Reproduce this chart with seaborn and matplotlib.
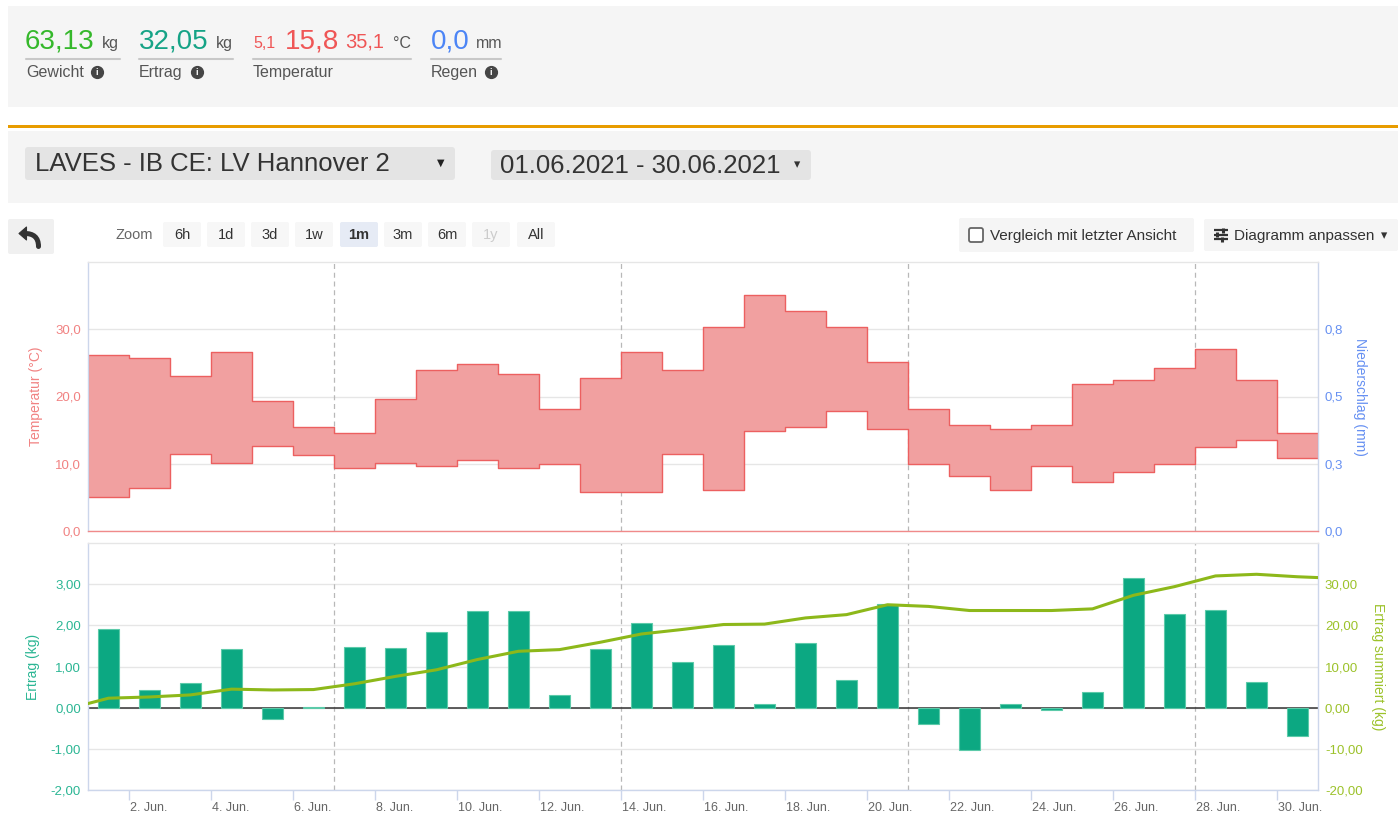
import numpy as np
import pandas as pd
import matplotlib
matplotlib.use("Agg")
import matplotlib.pyplot as plt
from matplotlib.patches import Rectangle, FancyBboxPatch, PathPatch, Polygon
from matplotlib.path import Path
from matplotlib.transforms import ScaledTranslation
import seaborn as sns

# ---------------- data : June 2021, LAVES - IB CE: LV Hannover 2 ----------------
tage = list(range(1, 31))                      # day of June
temp_min = [5.1, 6.4, 11.5, 10.1, 12.7, 11.3, 9.3, 10.1, 9.7, 10.6,
            9.4, 9.9, 5.8, 5.8, 11.5, 6.1, 14.9, 15.5, 17.9, 15.2,
            10.0, 8.2, 6.1, 9.6, 7.3, 8.8, 10.0, 12.5, 13.6, 10.9]
temp_max = [26.1, 25.7, 23.1, 26.6, 19.3, 15.4, 14.5, 19.6, 23.9, 24.9,
            23.3, 18.2, 22.8, 26.6, 24.0, 30.3, 35.1, 32.7, 30.4, 25.1,
            18.1, 15.7, 15.1, 15.8, 21.9, 22.5, 24.3, 27.0, 22.4, 14.5]
ertrag = [1.91, 0.42, 0.59, 1.42, -0.27, 0.01, 1.48, 1.45, 1.83, 2.35,
          2.35, 0.31, 1.42, 2.06, 1.10, 1.53, 0.08, 1.57, 0.67, 2.51,
          -0.40, -1.04, 0.08, -0.06, 0.39, 3.15, 2.27, 2.37, 0.62, -0.69]
# cumulated yield (time in June days, value in kg)
summiert_zeit = [1.0, 1.5, 2.5, 3.5, 4.5, 5.5, 6.5, 7.5, 8.5, 9.5, 10.5,
                 11.5, 12.5, 13.5, 14.5, 15.5, 16.5, 17.5, 18.5, 19.5, 20.5,
                 21.5, 22.5, 23.5, 24.5, 25.5, 26.5, 27.5, 28.5, 29.5, 30.5, 31.0]
summiert = [1.0, 2.3, 2.6, 3.1, 4.5, 4.3, 4.4, 5.8, 7.6, 9.2, 11.7,
            13.7, 14.1, 15.9, 17.9, 19.0, 20.2, 20.3, 21.8, 22.6, 25.0,
            24.6, 23.6, 23.6, 23.6, 24.0, 27.3, 29.4, 32.0, 32.4, 31.8, 31.6]

tick_tage = [2, 4, 6, 8, 10, 12, 14, 16, 18, 20, 22, 24, 26, 28, 30]
tick_labels = ["2. Jun.", "4. Jun.", "6. Jun.", "8. Jun.", "10. Jun.", "12. Jun.",
               "14. Jun.", "16. Jun.", "18. Jun.", "20. Jun.", "22. Jun.", "24. Jun.",
               "26. Jun.", "28. Jun.", "30. Jun."]
wochen_start = [7, 14, 21, 28]

temp_ticks = [0, 10, 20, 30]
temp_labels = ["0,0", "10,0", "20,0", "30,0"]
regen_ticks = [0, 0.25, 0.5, 0.75]
regen_labels = ["0,0", "0,3", "0,5", "0,8"]
ertrag_ticks = [-2, -1, 0, 1, 2, 3]
ertrag_labels = ["-2,00", "-1,00", "0,00", "1,00", "2,00", "3,00"]
summ_ticks = [-20, -10, 0, 10, 20, 30]
summ_labels = ["-20,00", "-10,00", "0,00", "10,00", "20,00", "30,00"]

# ---------------- style ----------------
sns.set_theme(style="white")
plt.rcParams["font.family"] = ["Liberation Sans", "DejaVu Sans"]

C_GEW = "#35b82b"
C_ERT = "#16a386"
C_TEMP = "#ef5656"
C_REG = "#4c85f6"
C_TEMP_AX = "#f18282"
C_REG_AX = "#6690f2"
C_BAR = "#0ca882"
C_ERT_AX = "#2bb694"
C_LINE = "#8db81a"
C_SUM_AX = "#9cc22a"
C_BLUEAX = "#ccd6eb"
C_GRID = "#e6e6e6"

W, H = 1398, 813
fig = plt.figure(figsize=(W / 100, H / 100), dpi=100)
fig.patch.set_facecolor("white")

# ---------------- UI overlay (pixel coordinates) ----------------
ui = fig.add_axes([0, 0, 1, 1])
ui.set_xlim(0, W)
ui.set_ylim(H, 0)
ui.axis("off")


def box(x0, y0, x1, y1, fc, r=3):
    ui.add_patch(FancyBboxPatch((x0, y0), x1 - x0, y1 - y0,
                                boxstyle=f"round,pad=0,rounding_size={r}",
                                fc=fc, ec="none", lw=0))


def txt(x, y, s, size, color, ha="left", va="baseline", weight="normal", **kw):
    ui.text(x, y, s, fontsize=size, color=color, ha=ha, va=va,
            fontweight=weight, **kw)


def info(x, y):
    ui.plot([x], [y], "o", ms=8.5, color="#454545")
    txt(x, y + 0.6, "i", 6.5, "white", ha="center", va="center", weight="bold")


# header panel
ui.add_patch(Rectangle((8, 6), W - 8, 101, fc="#f5f5f5", lw=0))
txt(25, 48, "63,13", 20, C_GEW)
txt(102, 48, "kg", 11.5, "#555555")
ui.plot([26, 120], [59, 59], color="#c8c8c8", lw=1.5)
txt(26, 77, "Gewicht", 11.5, "#555555")
info(97, 72)

txt(139, 48, "32,05", 20, C_ERT)
txt(216, 48, "kg", 11.5, "#555555")
ui.plot([139, 233], [59, 59], color="#c8c8c8", lw=1.5)
txt(139, 77, "Ertrag", 11.5, "#555555")
info(197, 72)

txt(253, 48, "5,1", 11.5, C_TEMP)
txt(285, 48, "15,8", 20, C_TEMP)
txt(345, 48, "35,1", 14.5, C_TEMP)
txt(393, 48, "°C", 11.5, "#555555")
ui.plot([253, 411], [59, 59], color="#c8c8c8", lw=1.5)
txt(253, 77, "Temperatur", 11.5, "#555555")

txt(431, 48, "0,0", 20, C_REG)
txt(476, 48, "mm", 11.5, "#555555")
ui.plot([431, 501], [59, 59], color="#c8c8c8", lw=1.5)
txt(431, 77, "Regen", 11.5, "#555555")
info(491, 72)

# orange separator + selection panel
ui.add_patch(Rectangle((8, 125.5), W - 8, 3, fc="#e89c00", lw=0))
ui.add_patch(Rectangle((8, 131), W - 8, 72, fc="#f5f5f5", lw=0))
box(25, 147, 455, 180, "#e4e4e4")
txt(35, 164, "LAVES - IB CE: LV Hannover 2", 18.5, "#333333", va="center")
txt(441, 163, "▼", 7, "#222222", ha="center", va="center", family="DejaVu Sans")
box(491, 150, 811, 180, "#e4e4e4")
txt(500, 166, "01.06.2021 - 30.06.2021", 18.5, "#333333", va="center")
txt(797, 165, "▾", 9, "#333333", ha="center", va="center", family="DejaVu Sans")

# toolbar: back button with "reply" arrow icon
box(8, 219, 54, 254, "#f0f0f0", r=2)
arrow_body = Path([(38.5, 246.5), (38.5, 237.0), (33.0, 233.5), (25.0, 233.5)],
                  [Path.MOVETO, Path.CURVE4, Path.CURVE4, Path.CURVE4])
ui.add_patch(PathPatch(arrow_body, fc="none", ec="#333333", lw=3.6, capstyle="round"))
ui.add_patch(Polygon([(19.0, 233.5), (26.5, 227.0), (26.5, 240.0)], closed=True,
                     fc="#333333", ec="#333333", lw=0.8, joinstyle="round"))

txt(115, 234.5, "Zoom", 10.5, "#666666", va="center")
buttons = [("6h", 163), ("1d", 207), ("3d", 251), ("1w", 295), ("1m", 340),
           ("3m", 384), ("6m", 428), ("1y", 472), ("All", 517)]
for lab, bx in buttons:
    sel = lab == "1m"
    box(bx, 222, bx + 38, 247, "#e6ebf5" if sel else "#f7f7f7", r=2)
    col = "#cccccc" if lab == "1y" else "#333333"
    txt(bx + 19, 234.5, lab, 10.5, col, ha="center", va="center",
        weight="bold" if sel else "normal")

box(959, 218, 1194, 252, "#f5f5f5", r=2)
ui.add_patch(FancyBboxPatch((969, 228), 14, 14, boxstyle="round,pad=0,rounding_size=2",
                            fc="white", ec="#666666", lw=1.3))
txt(990, 236, "Vergleich mit letzter Ansicht", 11, "#333333", va="center")
box(1204, 219, W, 251, "#f5f5f5", r=2)
for yy, tx in [(230.5, 1223), (235, 1217), (239.5, 1222)]:
    ui.plot([1214, 1228], [yy, yy], color="#333333", lw=1.6, solid_capstyle="butt")
    ui.plot([tx, tx], [yy - 2.5, yy + 2.5], color="#333333", lw=2.2, solid_capstyle="butt")
txt(1234, 236, "Diagramm anpassen", 11, "#333333", va="center")
txt(1384, 236, "▾", 9, "#333333", ha="center", va="center", family="DejaVu Sans")

# ---------------- temperature chart ----------------
x0, x1 = 88, 1318
ax_t = fig.add_axes([x0 / W, (H - 531) / H, (x1 - x0) / W, (531 - 262) / H])
edges = tage + [31]
lo = temp_min + [temp_min[-1]]
hi = temp_max + [temp_max[-1]]
ax_t.fill_between(edges, lo, hi, step="post", facecolor="#f1a0a0",
                  edgecolor="#ec6060", lw=1.0, zorder=2)
for w in wochen_start:
    ax_t.axvline(w, color="#b8b8b8", lw=0.9, ls=(0, (4, 3)), zorder=1.5)
ax_t.set_xlim(1, 31)
ax_t.set_ylim(0, 40)
ax_t.set_yticks(temp_ticks)
ax_t.set_yticklabels(temp_labels)
ax_t.set_xticks(tick_tage)
ax_t.grid(axis="y", color=C_GRID, lw=1)
ax_t.grid(axis="x", visible=False)
ax_t.set_axisbelow(True)
ax_t.tick_params(axis="y", length=0, pad=5, labelsize=9.5, labelcolor=C_TEMP_AX)
ax_t.tick_params(axis="x", length=0, labelbottom=False)
for s, c in [("left", C_BLUEAX), ("right", C_BLUEAX), ("top", C_GRID), ("bottom", "#f08a8a")]:
    ax_t.spines[s].set_color(c)
    ax_t.spines[s].set_linewidth(1)
ax_t.set_ylabel("Temperatur (°C)", color=C_TEMP_AX, fontsize=10,
                rotation=90, ha="center", va="center", rotation_mode="default")
ax_t.yaxis.set_label_coords((36 - x0) / (x1 - x0), 0.5)

ax_tr = ax_t.twinx()
ax_tr.set_ylim(0, 1.0)
ax_tr.set_yticks(regen_ticks)
ax_tr.set_yticklabels(regen_labels)
ax_tr.tick_params(axis="y", length=0, pad=5, labelsize=9.5, labelcolor=C_REG_AX)
for s in ax_tr.spines.values():
    s.set_visible(False)
ax_tr.set_ylabel("Niederschlag (mm)", color=C_REG_AX, fontsize=10,
                 rotation=270, ha="center", va="center", rotation_mode="default")
ax_tr.yaxis.set_label_coords((1360 - x0) / (x1 - x0), 0.5)

# ---------------- yield chart ----------------
ax_b = fig.add_axes([x0 / W, (H - 790) / H, (x1 - x0) / W, (790 - 543) / H])
for w in wochen_start:
    ax_b.axvline(w, color="#b8b8b8", lw=0.9, ls=(0, (4, 3)), zorder=1.5)
ax_b.axhline(0, color="#333333", lw=1.1, zorder=2.5)
sns.barplot(x=np.array(tage) + 0.5, y=ertrag, native_scale=True, width=0.5,
            color=C_BAR, saturation=1, edgecolor="#5ccaa9", linewidth=0.8,
            errorbar=None, orient="x", ax=ax_b, zorder=3)
ax_b.set_xlim(1, 31)
ax_b.set_ylim(-2, 4)
ax_b.set_yticks(ertrag_ticks)
ax_b.set_yticklabels(ertrag_labels)
ax_b.set_xticks(tick_tage)
ax_b.set_xticklabels(tick_labels)
ax_b.set_xlabel("")
ax_b.grid(axis="y", color=C_GRID, lw=1)
ax_b.grid(axis="x", visible=False)
ax_b.set_axisbelow(True)
ax_b.tick_params(axis="y", length=0, pad=5, labelsize=9.5, labelcolor=C_ERT_AX)
ax_b.tick_params(axis="x", length=7, width=1, color=C_BLUEAX, direction="out",
                 pad=1.5, labelsize=9, labelcolor="#666666", bottom=True)
off = ScaledTranslation(1.5 / 100, 0, fig.dpi_scale_trans)
for lab in ax_b.get_xticklabels():
    lab.set_horizontalalignment("left")
    lab.set_transform(lab.get_transform() + off)
for s, c in [("left", C_BLUEAX), ("right", C_BLUEAX), ("top", C_GRID), ("bottom", C_BLUEAX)]:
    ax_b.spines[s].set_color(c)
    ax_b.spines[s].set_linewidth(1)
ax_b.set_ylabel("Ertrag (kg)", color=C_ERT_AX, fontsize=10,
                rotation=90, ha="center", va="center", rotation_mode="default")
ax_b.yaxis.set_label_coords((33 - x0) / (x1 - x0), 0.5)

ax_br = ax_b.twinx()
sns.lineplot(x=summiert_zeit, y=summiert, color=C_LINE, lw=2.2, ax=ax_br,
             solid_joinstyle="round", solid_capstyle="round")
ax_br.set_xlim(1, 31)
ax_br.set_ylim(-20, 40)
ax_br.set_yticks(summ_ticks)
ax_br.set_yticklabels(summ_labels)
ax_br.tick_params(axis="y", length=0, pad=5, labelsize=9.5, labelcolor=C_SUM_AX)
for s in ax_br.spines.values():
    s.set_visible(False)
ax_br.set_ylabel("Ertrag summiert (kg)", color=C_SUM_AX, fontsize=10,
                 rotation=270, ha="center", va="center", rotation_mode="default")
ax_br.yaxis.set_label_coords((1378 - x0) / (x1 - x0), 0.5)

fig.savefig("out.png", dpi=100, facecolor="white")
